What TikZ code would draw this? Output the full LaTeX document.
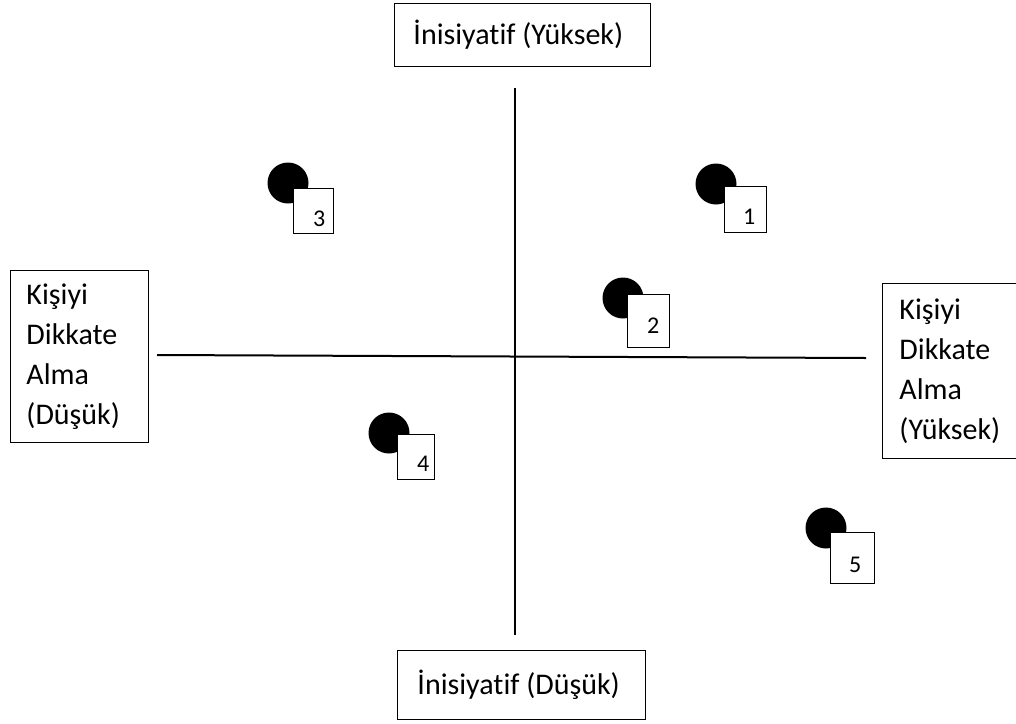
\documentclass[tikz,border=0pt]{standalone}
\usepackage{fontspec}
\setmainfont{Carlito}[Ligatures={NoCommon}]
\begin{document}
\begin{tikzpicture}[x=1pt,y=-1pt,
  frame/.style={draw=black, line width=0.9pt, fill=white, align=left,
    anchor=north west, inner ysep=0pt, font=\fontsize{30}{40}\selectfont,
    execute at begin node={\spaceskip=0pt\xspaceskip=0pt}},
  axis/.style={draw=black, line width=2pt},
  dot/.style={circle, fill=black, minimum size=41pt, inner sep=0pt},
  tag/.style={draw=black, line width=0.9pt, fill=white, anchor=north west, inner sep=0pt},
  num/.style={anchor=base west, inner sep=0pt, font=\fontsize{24}{28}\selectfont}]
\useasboundingbox (0,0) rectangle (1016,723);
\clip (0,0) rectangle (1016,723);

% axes
\coordinate (vtop) at (515,88);
\coordinate (vbot) at (515,635);
\coordinate (hleft) at (157,355);
\coordinate (hright) at (866,358);
\draw[axis] (vtop) -- (vbot);
\draw[axis] (hleft) -- (hright);

% axis labels
\node[frame, text width=218pt, inner xsep=19pt, minimum height=63pt] (high) at (394,3) {İnisiyatif (Yüksek)};
\node[frame, text width=208pt, inner xsep=20pt, minimum height=69pt] (low) at (397,650) {İnisiyatif (Düşük)};
\node[frame, text width=106pt, inner xsep=16pt, minimum height=172pt] (left) at (10,270) {Kişiyi\\Dikkate\\Alma\\(Düşük)};
\node[frame, text width=104pt, inner xsep=17pt, minimum height=175pt] (right) at (882,283) {Kişiyi\\Dikkate\\Alma\\(Yüksek)};

% markers: dot, tag box and number
\node[dot] (d1) at (716,184) {};
\node[tag, minimum width=42pt, minimum height=46pt] (t1) at (724,186) {};
\node[num] (n1) at (743,224) {1};

\node[dot] (d2) at (623,298) {};
\node[tag, minimum width=42pt, minimum height=53pt] (t2) at (627,294) {};
\node[num] (n2) at (647,333) {2};

\node[dot] (d3) at (288,183) {};
\node[tag, minimum width=40pt, minimum height=45pt] (t3) at (293,188) {};
\node[num] (n3) at (313,226) {3};

\node[dot] (d4) at (389,433) {};
\node[tag, minimum width=37pt, minimum height=45pt] (t4) at (397,434) {};
\node[num] (n4) at (417,471) {4};

\node[dot] (d5) at (826,528) {};
\node[tag, minimum width=44pt, minimum height=51pt] (t5) at (830,532) {};
\node[num] (n5) at (849,572) {5};
\end{tikzpicture}
\end{document}
